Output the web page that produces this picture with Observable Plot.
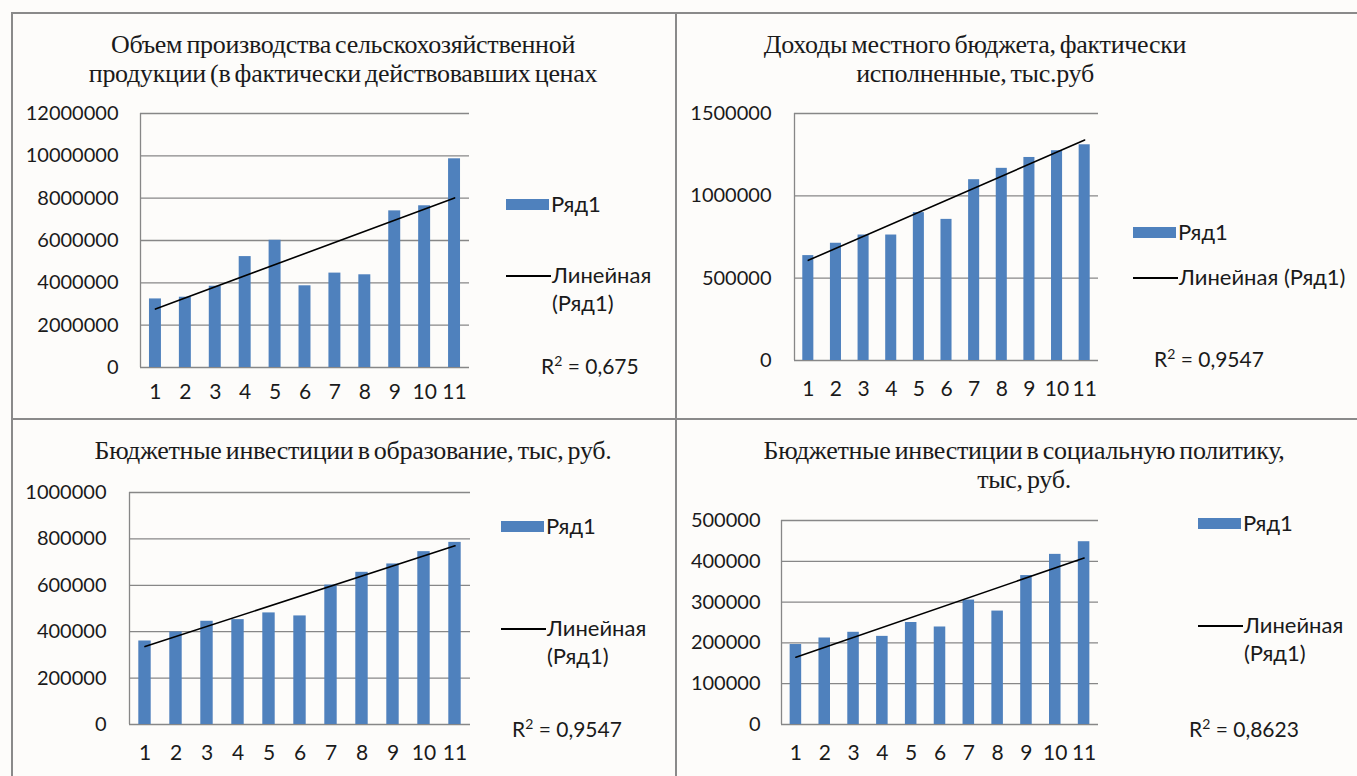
<!DOCTYPE html>
<html>
<head>
<meta charset="utf-8">
<script src="https://cdn.jsdelivr.net/npm/d3@7"></script>
<script src="https://cdn.jsdelivr.net/npm/@observablehq/plot@0.6"></script>
<style>
  html, body { margin: 0; padding: 0; background: #ffffff; }
  #page { position: relative; width: 1357px; height: 776px; overflow: hidden; background: #fdfcfa; }
  .frame { position: absolute; background: #8a8a8a; }
  .title { position: absolute; font-family: "Liberation Serif", "Times New Roman", serif; font-size: 26px; color: #1a1a1a; text-align: center; white-space: nowrap; line-height: 29px; letter-spacing: -0.3px; word-spacing: -2px; }
  .leg { position: absolute; font-family: Lato, sans-serif; font-size: 22px; color: #1a1a1a; white-space: nowrap; line-height: 28px; }
  .r2 { position: absolute; font-family: Lato, sans-serif; font-size: 21px; color: #1a1a1a; white-space: nowrap; line-height: 28px; }
  .r2 sup { font-size: 14px; line-height: 0; vertical-align: 8px; }
  .sw { position: absolute; background: #4f81bd; }
  .ln { position: absolute; background: #000; height: 1.5px; }
  .panel svg { overflow: visible; }
  .panel { position: absolute; }
</style>
</head>
<body>
<div id="page"></div>
<script>
// ---- data ----
const categories = [1, 2, 3, 4, 5, 6, 7, 8, 9, 10, 11];
const agriOutput = [3240000, 3320000, 3840000, 5240000, 6010000, 3860000, 4460000, 4380000, 7400000, 7640000, 9860000];
const budgetRevenue = [637000, 712000, 762000, 762000, 898000, 857000, 1098000, 1167000, 1233000, 1274000, 1310000];
const eduInvest = [360000, 399000, 445000, 452000, 481000, 468000, 601000, 656000, 692000, 745000, 785000];
const socialInvest = [196000, 212000, 226000, 216000, 250000, 239000, 305000, 278000, 365000, 417000, 448000];
const ticks1 = [0, 2000000, 4000000, 6000000, 8000000, 10000000, 12000000];
const ticks2 = [0, 500000, 1000000, 1500000];
const ticks3 = [0, 200000, 400000, 600000, 800000, 1000000];
const ticks4 = [0, 100000, 200000, 300000, 400000, 500000];
const titles = [
  ["Объем производства сельскохозяйственной", "продукции (в фактически действовавших ценах"],
  ["Доходы местного бюджета, фактически", "исполненные, тыс.руб"],
  ["Бюджетные инвестиции в образование, тыс, руб."],
  ["Бюджетные инвестиции в социальную политику,", "тыс, руб."]
];
const seriesName = "Ряд1";
const trendName = "Линейная (Ряд1)";
const r2Values = ["0,675", "0,9547", "0,9547", "0,8623"];

const page = document.getElementById("page");
function el(cls, css, html) {
  const d = document.createElement("div");
  d.className = cls;
  Object.assign(d.style, css);
  if (html !== undefined) d.innerHTML = html;
  page.appendChild(d);
  return d;
}

// frame lines
el("frame", {left: "11px", top: "12px", width: "1346px", height: "2px"});
el("frame", {left: "11px", top: "12px", width: "2px", height: "764px"});
el("frame", {left: "675px", top: "12px", width: "2px", height: "764px"});
el("frame", {left: "11px", top: "418px", width: "1346px", height: "2px"});

const panels = [
  {values: agriOutput, ticks: ticks1, left: 0, top: 95, width: 480, height: 315, mL: 140, mR: 11, mT: 18, mB: 43, xPad: 17, yPad: 22,
   titleX: 343, titleY: 30, twoLineLegend: true, swX: 506, swY: 199, lnY: 275, r2X: 541, r2Y: 352},
  {values: budgetRevenue, ticks: ticks2, left: 680, top: 95, width: 430, height: 315, mL: 114, mR: 12, mT: 18, mB: 50, xPad: 21, yPad: 23,
   titleX: 975, titleY: 30, twoLineLegend: false, swX: 1133, swY: 227, lnY: 277, r2X: 1154, r2Y: 345},
  {values: eduInvest, ticks: ticks3, left: 0, top: 474, width: 480, height: 300, mL: 129, mR: 10, mT: 18, mB: 50, xPad: 21, yPad: 23,
   titleX: 353, titleY: 436, twoLineLegend: true, swX: 501, swY: 521, lnY: 628, r2X: 512, r2Y: 715},
  {values: socialInvest, ticks: ticks4, left: 680, top: 502, width: 430, height: 272, mL: 101, mR: 12, mT: 18, mB: 50, xPad: 21, yPad: 21,
   titleX: 1024, titleY: 436, twoLineLegend: true, swX: 1198, swY: 518, lnY: 625, r2X: 1189, r2Y: 715}
];

panels.forEach((p, k) => {
  const data = categories.map((c, i) => ({i: c, v: p.values[i]}));
  const band = (p.width - p.mL - p.mR) / categories.length;
  const inset = band * 0.3;
  const chart = Plot.plot({
    width: p.width,
    height: p.height,
    marginLeft: p.mL,
    marginRight: p.mR,
    marginTop: p.mT,
    marginBottom: p.mB,
    style: {fontFamily: "Lato, sans-serif", fontSize: "20px", color: "#1a1a1a", background: "transparent", overflow: "visible"},
    x: {domain: [0.5, 11.5], axis: null},
    y: {domain: [0, p.ticks[p.ticks.length - 1]], axis: null},
    marks: [
      Plot.ruleY(p.ticks, {stroke: "#878787", strokeWidth: 1.3}),
      Plot.ruleX([0.5], {stroke: "#878787", strokeWidth: 1.3}),
      Plot.rectY(data, {x1: d => d.i - 0.5, x2: d => d.i + 0.5, y: "v", insetLeft: inset, insetRight: inset, fill: "#4f81bd"}),
      Plot.linearRegressionY(data, {x: "i", y: "v", ci: 0, stroke: "#000", strokeWidth: 1.6}),
      Plot.axisX({ticks: categories, tickSize: 0, tickPadding: p.xPad, tickFormat: d => String(d), label: null, fontSize: 21}),
      Plot.axisY({ticks: p.ticks, tickSize: 0, tickPadding: p.yPad, tickFormat: d => String(d), label: null, fontSize: 20})
    ]
  });
  const wrap = document.createElement("div");
  wrap.className = "panel";
  wrap.style.left = p.left + "px";
  wrap.style.top = p.top + "px";
  wrap.appendChild(chart);
  page.appendChild(wrap);

  // title
  el("title", {left: (p.titleX - 400) + "px", width: "800px", top: p.titleY + "px"}, titles[k].join("<br>"));

  // legend
  el("sw", {left: p.swX + "px", top: p.swY + "px", width: "43px", height: "11px"});
  el("leg", {left: (p.swX + 45) + "px", top: (p.swY + 5 - 14) + "px"}, seriesName);
  el("ln", {left: p.swX + "px", top: p.lnY + "px", width: "45px"});
  const trendHtml = p.twoLineLegend ? trendName.replace(" ", "<br>") : trendName;
  el("leg", {left: (p.swX + 46) + "px", top: (p.lnY - 14) + "px"}, trendHtml);
  el("r2", {left: p.r2X + "px", top: p.r2Y + "px"}, "R<sup>2</sup> = " + r2Values[k]);
});
</script>
</body>
</html>
